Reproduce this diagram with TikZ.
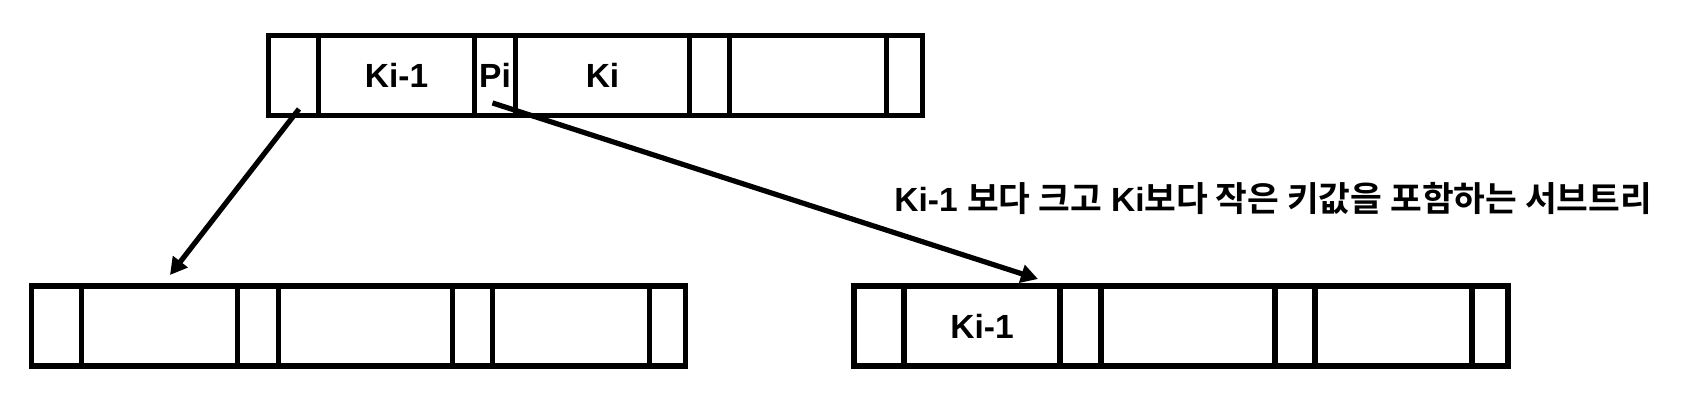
\documentclass[tikz,border=0pt]{standalone}
\usepackage{fontspec}
\setmainfont{Liberation Sans}
\newfontfamily\krfont{Noto Sans CJK KR}[Scale=1.03, BoldFont={Noto Sans CJK KR Bold}]
\newcommand{\kor}[1]{{\krfont #1}}
\usepackage{tikz}
\usetikzlibrary{arrows.meta,positioning}

\begin{document}
\begin{tikzpicture}[
  x=0.5pt, y=-0.5pt,
  cell/.style={draw, line width=2.6pt, minimum height=40pt, inner sep=0pt, outer sep=0pt,
    font=\bfseries\fontsize{16.75}{20}\selectfont},
  arr/.style={-{Triangle[length=8.5pt,width=9pt]}, line width=2.6pt},
  note/.style={inner sep=0pt, font=\bfseries\fontsize{16.75}{20}\selectfont}
]
\useasboundingbox (0,0) rectangle (1682,414);

\node[cell, minimum width=25pt, anchor=west] (t1) at (268.5,75.75) {};
\node[cell, minimum width=78pt, right=0pt of t1] (t2) {Ki-1};
\node[cell, minimum width=20.5pt, right=0pt of t2] (t3) {Pi};
\node[cell, minimum width=87pt, right=0pt of t3] (t4) {Ki};
\node[cell, minimum width=20pt, right=0pt of t4] (t5) {};
\node[cell, minimum width=78.5pt, right=0pt of t5] (t6) {};
\node[cell, minimum width=18pt, right=0pt of t6] (t7) {};

\node[cell, minimum width=25pt, anchor=west] (l1) at (31.7,326) {};
\node[cell, minimum width=78pt, right=0pt of l1] (l2) {};
\node[cell, minimum width=20.5pt, right=0pt of l2] (l3) {};
\node[cell, minimum width=87pt, right=0pt of l3] (l4) {};
\node[cell, minimum width=20pt, right=0pt of l4] (l5) {};
\node[cell, minimum width=78.5pt, right=0pt of l5] (l6) {};
\node[cell, minimum width=18pt, right=0pt of l6] (l7) {};

\node[cell, minimum width=25pt, anchor=west] (r1) at (854,326) {};
\node[cell, minimum width=78pt, right=0pt of r1] (r2) {Ki-1};
\node[cell, minimum width=20.5pt, right=0pt of r2] (r3) {};
\node[cell, minimum width=87pt, right=0pt of r3] (r4) {};
\node[cell, minimum width=20pt, right=0pt of r4] (r5) {};
\node[cell, minimum width=78.5pt, right=0pt of r5] (r6) {};
\node[cell, minimum width=18pt, right=0pt of r6] (r7) {};

\node[note, anchor=base west] (sub) at (894,211.7)
  {Ki-1 \kor{보다 크고} Ki\kor{보다 작은 키값을 포함하는 서브트리}};

\draw[arr] ([xshift=2.75pt,yshift=3.4pt]t1.south) -- ([xshift=5.15pt,yshift=5.5pt]l2.north);
\draw[arr] ([xshift=-1.25pt,yshift=6.4pt]t3.south) -- ([xshift=28pt,yshift=3.5pt]r2.north);
\end{tikzpicture}
\end{document}
